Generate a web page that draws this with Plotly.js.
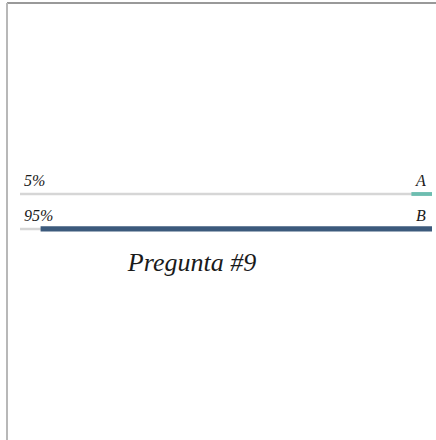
<!DOCTYPE html>
<html>
<head>
<meta charset="utf-8">
<script src="https://cdn.plot.ly/plotly-3.0.1.min.js"></script>
<style>
html,body{margin:0;padding:0;background:#fff;}
#chart{width:436px;height:440px;}
</style>
</head>
<body>
<div id="chart"></div>
<script>
var categories = ['A', 'B'];
var values = [5, 95];
var valueLabels = ['5%', '95%'];
var trackValues = [100, 100];
var chartTitle = 'Pregunta #9';

var barColors = ['#6dbdb0', '#3c5a7c'];
var serif = '"Liberation Serif", "DejaVu Serif", serif';

var track = {
  type: 'bar', orientation: 'h',
  y: categories, x: trackValues,
  width: [0.07, 0.07],
  marker: {color: '#d6d6d6', line: {width: 0}},
  hoverinfo: 'skip', showlegend: false
};
var bars = {
  type: 'bar', orientation: 'h',
  y: categories, x: values,
  width: [0.11, 0.15],
  marker: {color: barColors, line: {width: 0}},
  showlegend: false
};

var annotations = [];
categories.forEach(function (c, i) {
  annotations.push({
    xref: 'paper', yref: 'y', x: 0.004, y: c, xanchor: 'left', yanchor: 'bottom',
    yshift: 3, text: valueLabels[i], showarrow: false,
    font: {family: serif, size: 16, color: '#1a1a1a', style: 'italic'}
  });
  annotations.push({
    xref: 'paper', yref: 'y', x: 0.99, y: c, xanchor: 'right', yanchor: 'bottom',
    yshift: 3, text: c, showarrow: false,
    font: {family: serif, size: 16, color: '#1a1a1a', style: 'italic'}
  });
});

var layout = {
  width: 436, height: 440,
  margin: {l: 20, r: 4, t: 0, b: 0},
  paper_bgcolor: '#ffffff', plot_bgcolor: 'rgba(0,0,0,0)',
  barmode: 'overlay',
  xaxis: {range: [100, 0], visible: false, fixedrange: true},
  yaxis: {type: 'category', range: [7.029, -5.543], visible: false, fixedrange: true},
  title: {
    text: chartTitle, xref: 'container', yref: 'container',
    x: 192 / 436, y: 1 - 262 / 440, xanchor: 'center', yanchor: 'middle',
    font: {family: serif, size: 26, color: '#1a1a1a', style: 'italic'}
  },
  annotations: annotations,
  shapes: [
    {type: 'line', xref: 'paper', yref: 'paper', x0: -13 / 412, x1: 1.01, y0: 1 - 3 / 440, y1: 1 - 3 / 440,
     line: {color: '#999999', width: 2}},
    {type: 'line', xref: 'paper', yref: 'paper', x0: -13 / 412, x1: -13 / 412, y0: 0, y1: 1 - 3 / 440,
     line: {color: '#b8b8b8', width: 2}}
  ]
};

Plotly.newPlot('chart', [track, bars], layout, {displayModeBar: false, staticPlot: true});
</script>
</body>
</html>
